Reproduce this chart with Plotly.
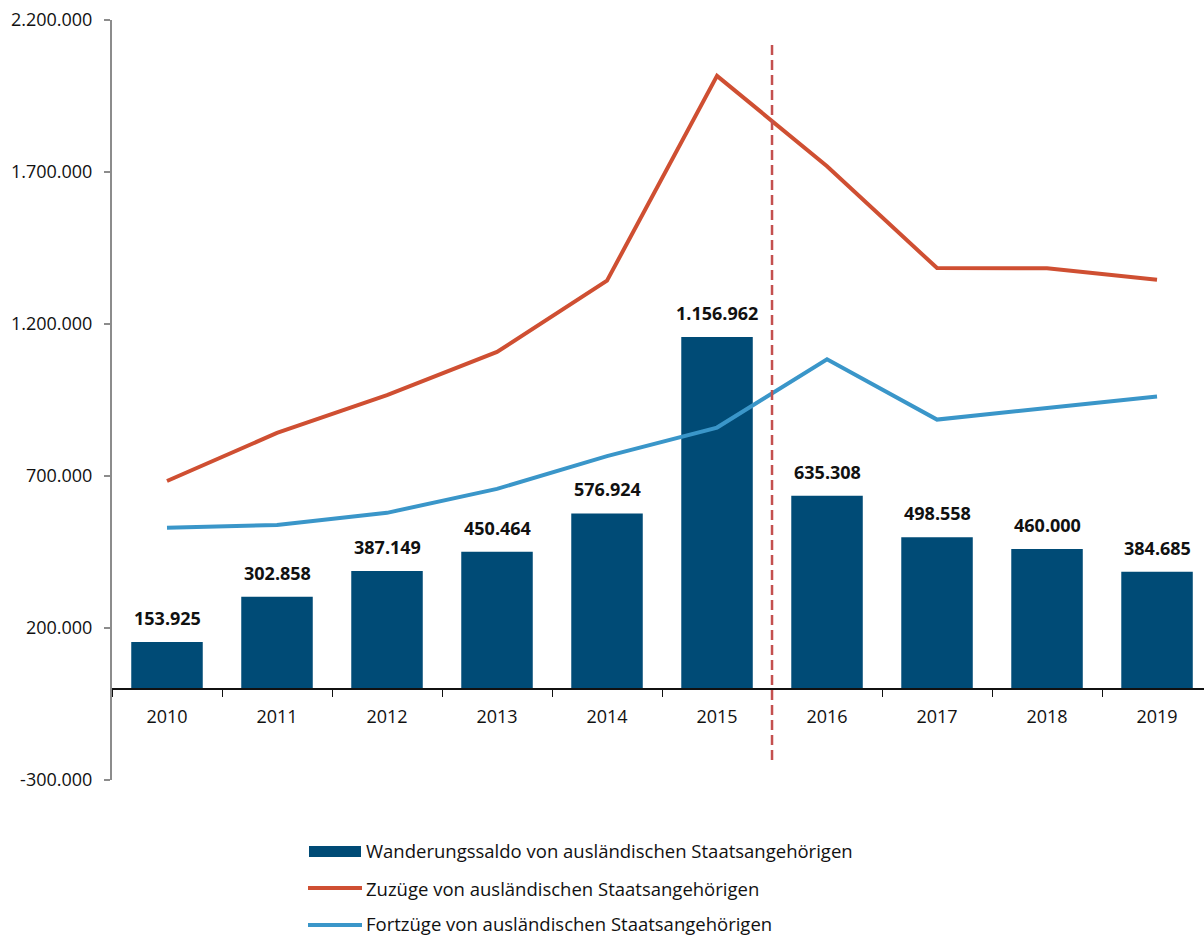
import plotly.graph_objects as go

years = ["2010", "2011", "2012", "2013", "2014", "2015", "2016", "2017", "2018", "2019"]
saldo = [153925, 302858, 387149, 450464, 576924, 1156962, 635308, 498558, 460000, 384685]
saldo_labels = ["153.925", "302.858", "387.149", "450.464", "576.924", "1.156.962",
                "635.308", "498.558", "460.000", "384.685"]
zuzuege = [683500, 841700, 965900, 1108100, 1342500, 2016200, 1719100, 1384000, 1383600, 1345900]
fortzuege = [529600, 538800, 578800, 657600, 765600, 859300, 1083800, 885500, 923600, 961200]
y_ticks = [-300000, 200000, 700000, 1200000, 1700000, 2200000]
y_ticktext = ["-300.000", "200.000", "700.000", "1.200.000", "1.700.000", "2.200.000"]
legend_names = ["Wanderungssaldo von ausländischen Staatsangehörigen",
                "Zuzüge von ausländischen Staatsangehörigen",
                "Fortzüge von ausländischen Staatsangehörigen"]

C_BAR = "#004B76"
C_RED = "#CF4F32"
C_BLUE = "#3A96C9"
C_DASH = "#C4504F"
FONT = "Open Sans"

W, H = 1204, 938
L, R, T, B = 112, 0, 20, 158
PW, PH = W - L - R, H - T - B
YMIN, YMAX = -300000, 2200000


def px_x(px):
    return (px - L) / PW


def px_y(py):
    return (H - B - py) / PH


fig = go.Figure()
fig.add_trace(go.Bar(x=years, y=saldo, marker=dict(color=C_BAR, line=dict(width=0)),
                     width=0.65, showlegend=False, name=legend_names[0]))
fig.add_trace(go.Scatter(x=years, y=zuzuege, mode="lines", line=dict(color=C_RED, width=4),
                         showlegend=False, name=legend_names[1]))
fig.add_trace(go.Scatter(x=years, y=fortzuege, mode="lines", line=dict(color=C_BLUE, width=4),
                         showlegend=False, name=legend_names[2]))

annotations = []
for i, (v, lab) in enumerate(zip(saldo, saldo_labels)):
    annotations.append(dict(x=i, y=v, xref="x", yref="y", text="<b>" + lab + "</b>",
                            showarrow=False, yanchor="bottom", yshift=10,
                            font=dict(family=FONT, size=18, color="#111111")))

shapes = []
# dashed separator between 2015 and 2016
shapes.append(dict(type="line", xref="x", yref="paper", x0=5.5, x1=5.5,
                   y0=px_y(760), y1=px_y(40),
                   line=dict(color=C_DASH, width=2.5, dash="10px,5px")))

# manual legend
leg_y = [851, 888, 924]
shapes.append(dict(type="rect", xref="paper", yref="paper",
                   x0=px_x(309), x1=px_x(361), y0=px_y(857), y1=px_y(846),
                   fillcolor=C_BAR, line=dict(width=0)))
for py, col in [(888, C_RED), (925, C_BLUE)]:
    shapes.append(dict(type="line", xref="paper", yref="paper",
                       x0=px_x(308), x1=px_x(362), y0=px_y(py), y1=px_y(py),
                       line=dict(color=col, width=4)))
for py, name in zip(leg_y, legend_names):
    annotations.append(dict(x=px_x(364), y=px_y(py), xref="paper", yref="paper", text=name,
                            showarrow=False, xanchor="left", yanchor="middle",
                            font=dict(family=FONT, size=18.5, color="#111111")))

fig.update_layout(
    width=W, height=H,
    margin=dict(l=L, r=R, t=T, b=B),
    plot_bgcolor="white", paper_bgcolor="white",
    font=dict(family=FONT, size=18, color="#111111"),
    showlegend=False,
    shapes=shapes,
    annotations=annotations,
    xaxis=dict(
        type="category", range=[-0.5, 9.427],
        anchor="free", position=(0 - YMIN) / (YMAX - YMIN),
        showline=True, linecolor="#111111", linewidth=1.5,
        ticks="outside", tickson="boundaries", ticklen=7, tickcolor="#111111", tickwidth=1.2,
        showgrid=False, zeroline=False,
        ticklabelstandoff=12,
        tickfont=dict(family=FONT, size=18, color="#111111"),
    ),
    yaxis=dict(
        range=[YMIN, YMAX], tickvals=y_ticks, ticktext=y_ticktext,
        showline=True, linecolor="#8C8C8C", linewidth=2,
        ticks="outside", ticklen=6, tickcolor="#8C8C8C", tickwidth=1.5,
        showgrid=False, zeroline=False,
        ticklabelstandoff=8,
        tickfont=dict(family=FONT, size=18, color="#111111"),
    ),
)

fig.write_html("out.html", config={"displayModeBar": False},
               post_script="document.body.style.margin='0';document.body.style.overflow='hidden';")
